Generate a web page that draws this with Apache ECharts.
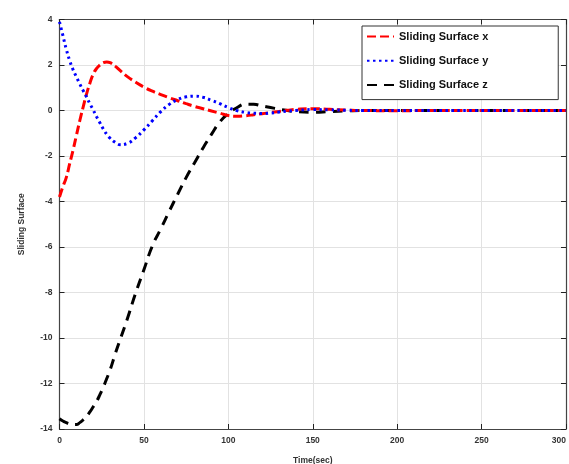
<!DOCTYPE html>
<html><head><meta charset="utf-8">
<script src="https://cdn.jsdelivr.net/npm/echarts@6/dist/echarts.min.js"></script>
<style>html,body{margin:0;padding:0;background:#fff}#c{width:569px;height:464px}</style>
</head><body><div id="c"></div>
<script>
var times = [0,2,4,6,8,10,12,14,16,18,20,22,24,26,28,30,33,36,40,45,50,55,60,65,70,75,80,85,90,95,100,105,110,115,120,125,130,135,140,150,160,170,180,200,220,250,280,300];
var surfX = [-3.8,-3.35,-2.95,-2.35,-1.75,-1.1,-0.45,0.15,0.72,1.2,1.6,1.85,2.0,2.1,2.13,2.1,1.95,1.75,1.5,1.25,1.03,0.85,0.7,0.56,0.43,0.3,0.18,0.08,-0.02,-0.12,-0.22,-0.25,-0.23,-0.19,-0.14,-0.09,-0.04,0.01,0.05,0.08,0.05,0.02,0,-0.01,0,0,0,0];
var surfY = [3.9,3.3,2.7,2.2,1.8,1.48,1.17,0.88,0.6,0.3,0.02,-0.28,-0.55,-0.82,-1.05,-1.22,-1.4,-1.5,-1.45,-1.2,-0.85,-0.45,-0.05,0.27,0.48,0.6,0.63,0.58,0.45,0.3,0.13,0.0,-0.08,-0.12,-0.13,-0.11,-0.07,-0.03,0.0,0.04,0.03,0.01,0,0,0,0,0,0];
var surfZ = [-13.55,-13.65,-13.72,-13.78,-13.8,-13.8,-13.72,-13.6,-13.45,-13.25,-13.02,-12.78,-12.48,-12.15,-11.78,-11.4,-10.7,-10.05,-9.2,-8.05,-7.0,-5.95,-5.2,-4.43,-3.68,-2.95,-2.3,-1.65,-1.05,-0.5,-0.13,0.12,0.28,0.27,0.2,0.13,0.06,0.0,-0.05,-0.08,-0.05,-0.02,0,0,0,0,0,0];
var seriesNames = ['Sliding Surface x','Sliding Surface y','Sliding Surface z'];
var xTitle = 'Time(sec)';
var yTitle = 'Sliding Surface';

function pairs(v){ return times.map(function(t,i){ return [t, v[i]]; }); }
var lab = {fontFamily:'Liberation Sans, Arial', fontWeight:'bold', fontSize:8.5, color:'#333'};
var chart = echarts.init(document.getElementById('c'), null, {renderer:'canvas'});
chart.setOption({
  animation:false,
  backgroundColor:'#fff',
  grid:{left:59.5, right:3, top:19.5, bottom:35, containLabel:false, outerBoundsMode:'none'},
  legend:{
    left:362, top:26, orient:'vertical',
    backgroundColor:'#fff', borderColor:'#333', borderWidth:1, borderRadius:0,
    padding:[5,70,9,4], itemGap:13, itemWidth:27, itemHeight:14,
    itemStyle:{color:'rgba(0,0,0,0)', opacity:0, borderWidth:0},
    textStyle:{fontFamily:'Liberation Sans, Arial', fontWeight:'bold', fontSize:11, color:'#111'},
    data:seriesNames
  },
  xAxis:[{
    type:'value', min:0, max:300, interval:50,
    name:xTitle, nameLocation:'middle', nameGap:27,
    nameTextStyle:lab,
    axisLine:{onZero:false, lineStyle:{color:'#444', width:1.2}},
    axisTick:{inside:true, length:5, lineStyle:{color:'#222'}},
    axisLabel:Object.assign({margin:7, alignMaxLabel:'right'}, lab),
    splitLine:{show:true, lineStyle:{color:'#e2e2e2', width:1}}
  },{
    type:'value', min:0, max:300, interval:50, position:'top',
    axisLine:{onZero:false, lineStyle:{color:'#444', width:1.2}},
    axisTick:{inside:true, length:5, lineStyle:{color:'#222'}},
    axisLabel:{show:false}, splitLine:{show:false}
  }],
  yAxis:[{
    type:'value', min:-14, max:4, interval:2,
    name:yTitle, nameLocation:'middle', nameGap:33, nameRotate:90,
    nameTextStyle:lab,
    axisLine:{onZero:false, lineStyle:{color:'#444', width:1.2}},
    axisTick:{inside:true, length:5, lineStyle:{color:'#222'}},
    axisLabel:Object.assign({margin:7}, lab),
    splitLine:{show:true, lineStyle:{color:'#e2e2e2', width:1}}
  },{
    type:'value', min:-14, max:4, interval:2, position:'right',
    axisLine:{onZero:false, lineStyle:{color:'#444', width:1.2}},
    axisTick:{inside:true, length:5, lineStyle:{color:'#222'}},
    axisLabel:{show:false}, splitLine:{show:false}
  }],
  series:[
    {name:seriesNames[0], type:'line', data:pairs(surfX), smooth:true, symbol:'none', z:3,
     lineStyle:{color:'#ff0000', width:3, type:[9,4]}, itemStyle:{color:'#ff0000'}},
    {name:seriesNames[1], type:'line', data:pairs(surfY), smooth:true, symbol:'none', z:4,
     lineStyle:{color:'#0000ff', width:3, type:[2.5,3.5]}, itemStyle:{color:'#0000ff'}},
    {name:seriesNames[2], type:'line', data:pairs(surfZ), smooth:true, symbol:'none', z:2,
     lineStyle:{color:'#000000', width:3, type:[10,7]}, itemStyle:{color:'#000000'}}
  ]
});
</script></body></html>
